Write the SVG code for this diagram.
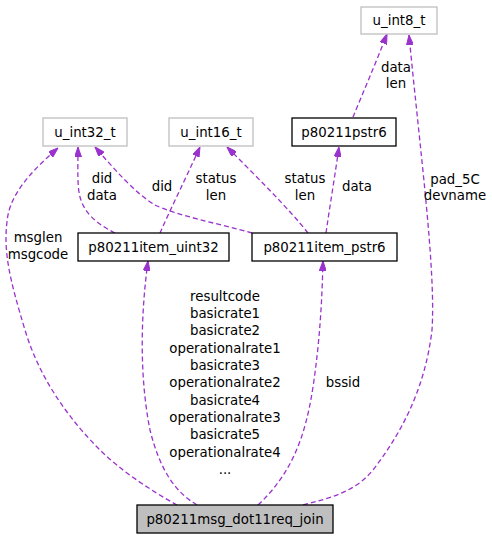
<svg xmlns="http://www.w3.org/2000/svg" width="492" height="539" viewBox="0 0 492 539">
<style>
text{font-family:"DejaVu Sans","Liberation Sans",sans-serif;font-size:13.33px;fill:#000;text-anchor:middle}
.ext{fill:#fff;stroke:#bfbfbf;stroke-width:1.3}
.cls{fill:#fff;stroke:#000;stroke-width:1.3}
.main{fill:#bfbfbf;stroke:#000;stroke-width:1.3}
.e{fill:none;stroke:#9a32cd;stroke-width:1.3;stroke-dasharray:5,3;marker-end:url(#ah)}
</style>
<defs>
<marker id="ah" viewBox="0 0 10 7" refX="10" refY="3.5" markerWidth="10" markerHeight="7" markerUnits="userSpaceOnUse" orient="auto">
<path d="M0,0 L10,3.5 L0,7 z" fill="#9a32cd" stroke="#9a32cd"/>
</marker>
</defs>
<rect width="492" height="539" fill="#fff"/>
<g id="connectors">
<path class="e" d="M177,505 C150,490 120,470 100,450 C70,420 40,380 25,330 C10,280 2,250 8,215 C13,190 35,168 58,148"/>
<path class="e" d="M115,233 C95,223 84,212 80,197 C77,185 78,170 78,147"/>
<path class="e" d="M252,233 C220,224 175,215 155,205 C135,193 115,170 95,147"/>
<path class="e" d="M160,233 C170,210 185,180 200,147"/>
<path class="e" d="M308,233 C290,210 255,175 227,147"/>
<path class="e" d="M326,233 C330,205 335,175 339,147"/>
<path class="e" d="M353,117 C362,95 375,65 387,34"/>
<path class="e" d="M303,505 C330,498 355,492 373,470 C400,435 425,390 432,330 C436,270 420,150 409,35"/>
<path class="e" d="M197,505 C175,492 160,470 150,430 C140,380 140,320 148,261"/>
<path class="e" d="M258,505 C290,475 305,440 313,387 C320,340 322,300 323,261"/>
<text x="38" y="242">msglen</text>
<text x="38" y="259">msgcode</text>
<text x="102" y="183">did</text>
<text x="102" y="200">data</text>
<text x="162" y="191">did</text>
<text x="216" y="183">status</text>
<text x="216" y="200">len</text>
<text x="305" y="183">status</text>
<text x="305" y="200">len</text>
<text x="357" y="191">data</text>
<text x="396" y="72">data</text>
<text x="396" y="88">len</text>
<text x="455" y="184">pad_5C</text>
<text x="455" y="200">devname</text>
<text x="225" y="301">resultcode</text>
<text x="225" y="318">basicrate1</text>
<text x="225" y="335">basicrate2</text>
<text x="225" y="353">operationalrate1</text>
<text x="225" y="370">basicrate3</text>
<text x="225" y="387">operationalrate2</text>
<text x="225" y="405">basicrate4</text>
<text x="225" y="422">operationalrate3</text>
<text x="225" y="439">basicrate5</text>
<text x="225" y="457">operationalrate4</text>
<text x="225" y="474">...</text>
<text x="343" y="387">bssid</text>
</g>
<g id="u_int8_t"><rect class="ext" x="361" y="7" width="76" height="27"/><text x="399" y="25">u_int8_t</text></g>
<g id="u_int32_t"><rect class="ext" x="43" y="118" width="84" height="28"/><text x="85" y="137">u_int32_t</text></g>
<g id="u_int16_t"><rect class="ext" x="169" y="118" width="84" height="28"/><text x="211" y="137">u_int16_t</text></g>
<g id="p80211pstr6"><rect class="cls" x="292" y="118" width="104" height="28"/><text x="344" y="137">p80211pstr6</text></g>
<g id="p80211item_uint32"><rect class="cls" x="78" y="233" width="151" height="28"/><text x="153.5" y="252">p80211item_uint32</text></g>
<g id="p80211item_pstr6"><rect class="cls" x="252" y="233" width="145" height="28"/><text x="324.5" y="252">p80211item_pstr6</text></g>
<g id="p80211msg_dot11req_join"><rect class="main" x="137" y="505" width="196" height="28"/><text x="235" y="524">p80211msg_dot11req_join</text></g>
</svg>
